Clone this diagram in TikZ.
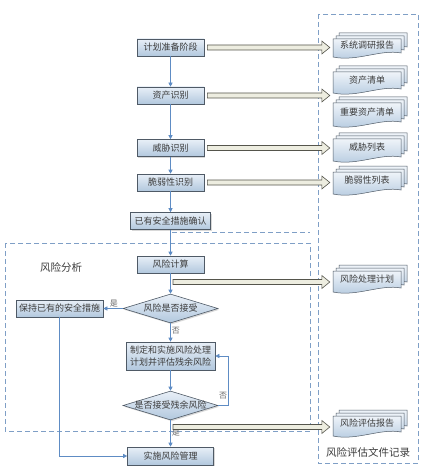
\documentclass[tikz,border=0pt]{standalone}
\usepackage{fontspec}
\setmainfont{Noto Sans CJK SC}
\usetikzlibrary{shapes.geometric,shadows,calc,arrows.meta}
\definecolor{boxtop}{HTML}{E8EFF7}
\definecolor{boxbot}{HTML}{B2C8DE}
\definecolor{edgec}{HTML}{4F5A66}
\definecolor{connc}{HTML}{5E8CC4}
\definecolor{dashc}{HTML}{7F9FC6}
\definecolor{txtc}{HTML}{3C3C3C}
\definecolor{arrfill}{HTML}{EDEDE0}
\definecolor{arredge}{HTML}{55554C}
\tikzset{
  proc/.style={draw=edgec, line width=0.6pt, top color=boxtop, bottom color=boxbot,
    minimum height=17, inner sep=0, text=txtc,
    drop shadow={shadow xshift=1.3pt, shadow yshift=-1.3pt, opacity=0.3}},
  dec/.style={diamond, draw=edgec, line width=0.6pt, top color=boxtop, bottom color=boxbot,
    minimum width=95, minimum height=29, inner sep=0,
    drop shadow={shadow xshift=1.3pt, shadow yshift=-1.3pt, opacity=0.3}},
  conn/.style={draw=connc, line width=0.6pt, -{Triangle[length=4pt,width=4pt]}},
  region/.style={draw=dashc, line width=0.8pt, dash pattern=on 5pt off 3pt},
  yn/.style={font=\fontsize{8}{9}\selectfont, text=gray!80!black, inner sep=1pt},
  sheet/.style={draw=edgec, line width=0.5pt, top color=boxtop!70!white, bottom color=boxbot},
  doctext/.style={inner sep=0, text=txtc},
  bigarr/.style={draw=arredge, line width=0.6pt, fill=arrfill}
}
\newcommand\docsheet[4]{%
  \pgfmathsetmacro\sxa{#1}\pgfmathsetmacro\sya{#2}%
  \pgfmathsetmacro\sxb{#3}\pgfmathsetmacro\syb{#4}%
  \pgfmathsetmacro\sw{\sxb-\sxa}%
  \path[sheet] (\sxa,\sya) -- (\sxb,\sya) -- (\sxb,\syb-5)
    .. controls ({\sxb-0.3*\sw},{\syb-9}) and ({\sxa+0.35*\sw},{\syb+4}) .. (\sxa,\syb-1) -- cycle;}
\newcommand\mdoc[6]{%
  \docsheet{#2+6}{#3}{#4}{#5-6}%
  \docsheet{#2+3}{#3+3}{#4-3}{#5-3}%
  \docsheet{#2}{#3+6}{#4-6}{#5}%
  \node[doctext, minimum width={#4-6-#2}] (#1) at ({(#2+#4-6)/2},{(#3+6+#5)/2-3}) {#6};}
\newcommand\bigarrow[2]{%
  \path[bigarr] let \p1=(#1), \p2=(#2) in
    (\x1,\y1+2.5pt) -- (\x2-8pt,\y1+2.5pt) -- (\x2-8pt,\y1+6.5pt) -- (\x2,\y1)
    -- (\x2-8pt,\y1-6.5pt) -- (\x2-8pt,\y1-2.5pt) -- (\x1,\y1-2.5pt) -- cycle;}
\begin{document}
\begin{tikzpicture}[x=1pt,y=-1pt,font=\fontsize{9}{12}\selectfont]
\fill[white] (0,0) rectangle (430,473);
\useasboundingbox (0,0) rectangle (430,473);
% regions
\draw[region] (318,14) rectangle (418,463);
\draw[region] (5,243) rectangle (310,431);
\draw[region] (172,232) -- (310,232);
\node[text=txtc, font=\fontsize{10.5}{12}\selectfont] (riskana) at (61,267) {风险分析};
\node[text=txtc, font=\fontsize{10.5}{12}\selectfont] (reclbl) at (368,452) {风险评估文件记录};
% main boxes
\node[proc, minimum width=67] (b1) at (170.5,47.5) {计划准备阶段};
\node[proc, minimum width=67] (b2) at (170.5,95.5) {资产识别};
\node[proc, minimum width=67] (b3) at (170.5,148) {威胁识别};
\node[proc, minimum width=67] (b4) at (170.5,182.5) {脆弱性识别};
\node[proc, minimum width=80] (b5) at (170.5,221) {已有安全措施确认};
\node[proc, minimum width=67] (calc) at (170.5,264.5) {风险计算};
\node[dec, label={[text=txtc]center:风险是否接受}] (d1) at (170.5,308.5) {};
\node[proc, minimum width=87] (keep) at (59.5,308.5) {保持已有的安全措施};
\node[proc, minimum width=89, minimum height=28, align=center] (plan) at (170.5,356) {制定和实施风险处理\\计划并评估残余风险};
\node[dec, label={[text=txtc]center:是否接受残余风险}] (d2) at (170.5,405.5) {};
\node[proc, minimum width=86, minimum height=18] (impl) at (170.5,456) {实施风险管理};
% documents
\mdoc{doc1}{333}{33}{407}{58}{系统调研报告}
\mdoc{doc2}{333}{66}{407}{94}{资产清单}
\mdoc{doc3}{333}{97}{407}{127}{重要资产清单}
\mdoc{doc4}{333}{133}{407}{162}{威胁列表}
\mdoc{doc5}{333}{166}{407}{195}{脆弱性列表}
\mdoc{doc6}{333}{265}{407}{293}{风险处理计划}
\mdoc{doc7}{333}{410}{407}{437}{风险评估报告}
% connectors
\draw[conn] (b1) -- (b2);
\draw[conn] (b2) -- (b3);
\draw[conn] (b3) -- (b4);
\draw[conn] (b4) -- (b5);
\draw[conn] (b5) -- (calc);
\draw[conn] (calc) -- (d1);
\draw[conn] (d1.west) -- node[yn, above, pos=0.45] (l1) {是} (keep.east);
\draw[conn] (d1.south) -- node[yn, right, pos=0.4] (l2) {否} (plan.north);
\draw[conn] (plan.south) -- (d2.north);
\coordinate (lp) at (228,405.5);
\draw[conn] (d2.east) -- (lp) |- (plan.east);
\node[yn] (l3) at (223,396) {否};
\draw[conn] (d2.south) -- node[yn, right, pos=0.45] (l4) {是} (impl.north);
\draw[conn] (keep.south) |- (impl.west);
% big arrows
\coordinate (a5) at (173,282);
\coordinate (a6) at (173,427);
\bigarrow{$(b1.east)+(3,0)$}{$(doc1.west)+(-3,0)$}
\bigarrow{$(b2.east)+(3,0)$}{$(doc2.west)+(-3,0)$}
\bigarrow{$(b3.east)+(3,0)$}{$(doc4.west)+(-3,0)$}
\bigarrow{$(b4.east)+(3,0)$}{$(doc5.west)+(-3,0)$}
\bigarrow{a5}{$(doc6.west)+(-3,0)$}
\bigarrow{a6}{$(doc7.west)+(-3,0)$}
\end{tikzpicture}
\end{document}
